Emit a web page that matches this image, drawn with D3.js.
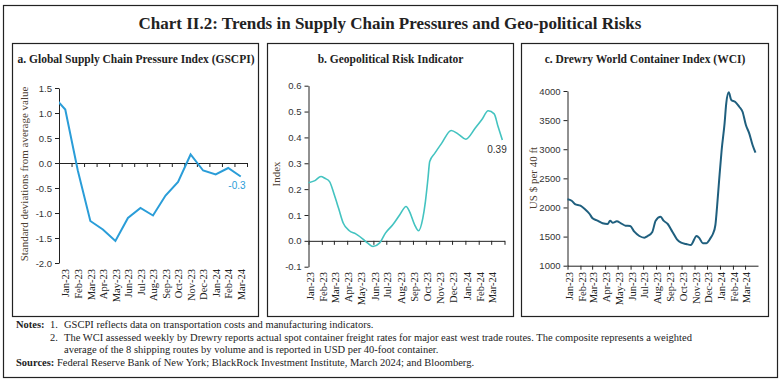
<!DOCTYPE html>
<html>
<head>
<meta charset="utf-8">
<script src="https://cdn.jsdelivr.net/npm/d3@7"></script>
<style>
  body { margin: 0; background: #fff; }
  text { font-family: 'Liberation Serif', serif; }
  .tick text { font-family: 'Liberation Sans', sans-serif; font-size: 9.5px; fill: #333; }
  .months .tick text { font-family: 'Liberation Serif', serif; font-size: 10.5px; fill: #222; }
</style>
</head>
<body>
<svg id="canvas" width="782" height="384"></svg>
<script>
// panel a: GSCPI, monthly (Dec-22 only feeds the clipped start of the line)
let gscpiMonths = ['Dec-22', 'Jan-23', 'Feb-23', 'Mar-23', 'Apr-23', 'May-23', 'Jun-23', 'Jul-23', 'Aug-23',
  'Sep-23', 'Oct-23', 'Nov-23', 'Dec-23', 'Jan-24', 'Feb-24', 'Mar-24']
let gscpiValues = [1.35, 1.07, -0.15, -1.16, -1.33, -1.56, -1.1, -0.9, -1.05, -0.65, -0.38, 0.17, -0.15, -0.23, -0.1, -0.27]
let gscpiTicks = [-2.0, -1.5, -1.0, -0.5, 0.0, 0.5, 1.0, 1.5]

// panel b: geopolitical risk indicator
let gprDates = ['2023-01-01', '2023-01-16', '2023-01-30', '2023-02-08', '2023-02-19', '2023-03-02', '2023-03-12',
  '2023-03-23', '2023-04-06', '2023-04-21', '2023-05-07', '2023-05-19', '2023-05-31', '2023-06-15', '2023-06-29',
  '2023-07-16', '2023-08-01', '2023-08-16', '2023-08-24', '2023-09-05', '2023-09-14', '2023-09-24', '2023-09-30',
  '2023-10-06', '2023-10-10', '2023-10-22', '2023-11-07', '2023-11-29', '2023-12-16', '2024-01-02', '2024-01-24',
  '2024-02-08', '2024-02-23', '2024-03-08', '2024-03-17', '2024-03-27']
let gprValues = [0.225, 0.233, 0.249, 0.242, 0.229, 0.178, 0.126, 0.068, 0.039, 0.027, 0.008, -0.009, -0.022,
  -0.009, 0.030, 0.062, 0.100, 0.133, 0.113, 0.062, 0.039, 0.088, 0.152, 0.242, 0.307, 0.339, 0.378, 0.427,
  0.412, 0.393, 0.436, 0.468, 0.503, 0.491, 0.442, 0.390]
let gprTicks = [-0.1, 0.0, 0.1, 0.2, 0.3, 0.4, 0.5, 0.6]

// panel c: Drewry WCI, US$ per 40 ft
let wciDates = ['2023-01-01', '2023-01-11', '2023-01-19', '2023-02-01', '2023-02-12', '2023-02-23', '2023-03-02',
  '2023-03-14', '2023-03-26', '2023-04-07', '2023-04-13', '2023-04-19', '2023-04-29', '2023-05-09', '2023-05-20',
  '2023-05-31', '2023-06-10', '2023-06-22', '2023-07-04', '2023-07-12', '2023-07-23', '2023-07-31', '2023-08-12',
  '2023-08-19', '2023-08-29', '2023-09-09', '2023-09-20', '2023-09-30', '2023-10-12', '2023-10-23', '2023-11-06',
  '2023-11-13', '2023-11-21', '2023-11-29', '2023-12-09', '2023-12-15', '2023-12-21', '2023-12-25', '2023-12-30',
  '2024-01-05', '2024-01-12', '2024-01-16', '2024-01-22', '2024-01-28', '2024-02-06', '2024-02-16', '2024-02-24',
  '2024-03-03', '2024-03-11', '2024-03-19', '2024-03-26']
let wciValues = [2140, 2116, 2059, 2030, 1968, 1888, 1814, 1773, 1728, 1716, 1773, 1738, 1762, 1728, 1687, 1682,
  1584, 1510, 1481, 1510, 1579, 1773, 1841, 1773, 1716, 1584, 1453, 1395, 1373, 1355, 1510, 1470, 1385, 1385,
  1470, 1544, 1699, 2013, 2471, 2987, 3445, 3788, 3977, 3845, 3816, 3730, 3644, 3416, 3273, 3072, 2940]
let wciTicks = [1000, 1500, 2000, 2500, 3000, 3500, 4000]

const canvas = d3.select('#canvas')
const parseDate = d3.timeParse('%Y-%m-%d')
const monthFmt = d3.timeFormat('%b-%y')
const fmt1 = d => d.toFixed(1)

// frames
canvas.append('rect').attr('x', 3.5).attr('y', 5.5).attr('width', 774).attr('height', 372)
  .attr('fill', 'none').attr('stroke', '#222').attr('stroke-width', 1.2)
let boxes = [[12.5, 258.5], [267.5, 513.5], [521.5, 768.5]]
boxes.forEach(b => {
  canvas.append('rect').attr('x', b[0]).attr('y', 43.5).attr('width', b[1] - b[0]).attr('height', 273)
    .attr('fill', 'none').attr('stroke', '#222').attr('stroke-width', 1.2)
})

canvas.append('text').attr('x', 390).attr('y', 29).attr('text-anchor', 'middle')
  .style('font-size', '17px').style('font-weight', 'bold').attr('fill', '#222')
  .text('Chart II.2: Trends in Supply Chain Pressures and Geo-political Risks')

let panelTitle = (x, txt) => {
  canvas.append('text').attr('x', x).attr('y', 63).attr('text-anchor', 'middle')
    .style('font-size', '11.5px').style('font-weight', 'bold').attr('fill', '#222').text(txt)
}
panelTitle(136, 'a. Global Supply Chain Pressure Index (GSCPI)')
panelTitle(390.5, 'b. Geopolitical Risk Indicator')
panelTitle(645, 'c. Drewry World Container Index (WCI)')

let yTitle = (x, y, txt) => {
  canvas.append('text').attr('transform', `translate(${x},${y}) rotate(-90)`).attr('text-anchor', 'middle')
    .attr('dy', '0.35em').style('font-size', '11px').attr('fill', '#4d4033').text(txt)
}

let styleAxis = g => {
  g.selectAll('.domain').attr('stroke', '#222')
  g.selectAll('.tick line').attr('stroke', '#222')
}

let monthLabels = (g) => {
  g.select('.domain').remove()
  g.attr('class', 'months')
  g.selectAll('.tick text')
    .attr('transform', 'rotate(-90)')
    .attr('text-anchor', 'end')
    .attr('x', 0).attr('y', 0).attr('dy', '0.35em')
}

// ---------- panel a ----------
let drawGscpi = () => {
  const x = d3.scaleLinear().domain([-0.5, 14.5]).range([59, 247])
  const y = d3.scaleLinear().domain([-2, 1.5]).range([263, 88])

  canvas.append('g').attr('transform', 'translate(59,0)')
    .call(d3.axisLeft(y).tickValues(gscpiTicks).tickFormat(fmt1).tickSize(4).tickSizeOuter(0))
    .call(styleAxis)

  canvas.append('g').attr('transform', `translate(0,${y(0)})`)
    .call(d3.axisBottom(x).tickValues(d3.range(-0.5, 15, 1)).tickFormat('').tickSize(4).tickSizeOuter(0))
    .call(styleAxis)

  canvas.append('g').attr('transform', 'translate(0,269)')
    .call(d3.axisBottom(x).tickValues(d3.range(0, 15)).tickFormat(i => gscpiMonths[i + 1]).tickSize(0))
    .call(monthLabels)

  canvas.append('clipPath').attr('id', 'clipA')
    .append('rect').attr('x', 59).attr('y', 60).attr('width', 190).attr('height', 240)

  const line = d3.line().x((d, i) => x(i - 1)).y(d => y(d))
  canvas.append('path').datum(gscpiValues)
    .attr('clip-path', 'url(#clipA)')
    .attr('d', line).attr('fill', 'none').attr('stroke', '#2a9dd8').attr('stroke-width', 2)

  canvas.append('text').attr('x', x(13.7)).attr('y', 189).attr('text-anchor', 'middle')
    .style('font-family', 'Liberation Sans, sans-serif').style('font-size', '10px').attr('fill', '#2a9dd8')
    .text(fmt1(gscpiValues[gscpiValues.length - 1]))

  yTitle(24, 174, 'Standard deviations from average value')
}

// ---------- panel b ----------
let drawGpr = () => {
  const x = d3.scaleTime().domain([parseDate('2023-01-01'), parseDate('2024-04-01')]).range([308.5, 504.5])
  const y = d3.scaleLinear().domain([-0.1, 0.6]).range([266.7, 85.7])
  const months = d3.timeMonth.range(parseDate('2023-01-01'), parseDate('2024-04-01'))

  canvas.append('g').attr('transform', 'translate(308.5,0)')
    .call(d3.axisLeft(y).tickValues(gprTicks).tickFormat(fmt1).tickSize(4).tickSizeOuter(0))
    .call(styleAxis)

  canvas.append('g').attr('transform', `translate(0,${y(0)})`)
    .call(d3.axisBottom(x).tickValues(months.concat([parseDate('2024-04-01')])).tickFormat('').tickSize(4).tickSizeOuter(0))
    .call(styleAxis)

  canvas.append('g').attr('transform', 'translate(1,272)')
    .call(d3.axisBottom(x).tickValues(months).tickFormat(monthFmt).tickSize(0))
    .call(monthLabels)

  const pts = gprDates.map((d, i) => [parseDate(d), gprValues[i]])
  canvas.append('path').datum(pts)
    .attr('d', d3.line().x(d => x(d[0])).y(d => y(d[1])).curve(d3.curveMonotoneX))
    .attr('fill', 'none').attr('stroke', '#43c3c0').attr('stroke-width', 1.6)

  canvas.append('text').attr('x', 497).attr('y', 152.5).attr('text-anchor', 'middle')
    .style('font-family', 'Liberation Sans, sans-serif').style('font-size', '10px').attr('fill', '#333')
    .text(gprValues[gprValues.length - 1].toFixed(2))

  yTitle(276, 174, 'Index')
}

// ---------- panel c ----------
let drawWci = () => {
  const x = d3.scaleTime().domain([parseDate('2023-01-01'), parseDate('2024-04-01')]).range([567.5, 758])
  const y = d3.scaleLinear().domain([1000, 4000]).range([265.7, 91])
  const months = d3.timeMonth.range(parseDate('2023-01-01'), parseDate('2024-04-01'))

  canvas.append('g').attr('transform', 'translate(567.5,0)')
    .call(d3.axisLeft(y).tickValues(wciTicks).tickFormat(d3.format('d')).tickSize(4).tickSizeOuter(0))
    .call(styleAxis)

  canvas.append('g').attr('transform', `translate(0,${y(1000)})`)
    .call(d3.axisBottom(x).tickValues(months).tickFormat('').tickSize(4).tickSizeOuter(0))
    .call(styleAxis)

  canvas.append('g').attr('transform', 'translate(1,272)')
    .call(d3.axisBottom(x).tickValues(months).tickFormat(monthFmt).tickSize(0))
    .call(monthLabels)

  const pts = wciDates.map((d, i) => [parseDate(d), wciValues[i]])
  canvas.append('path').datum(pts)
    .attr('d', d3.line().x(d => x(d[0])).y(d => y(d[1])).curve(d3.curveMonotoneX))
    .attr('fill', 'none').attr('stroke', '#1f5f7e').attr('stroke-width', 2)

  yTitle(533, 178, 'US $ per 40 ft')
}

drawGscpi()
drawGpr()
drawWci()

// notes
let notes = canvas.append('g').style('font-size', '10.5px').attr('fill', '#222')
notes.append('text').attr('x', 16).attr('y', 328).style('font-weight', 'bold').text('Notes:')
notes.append('text').attr('x', 50).attr('y', 328).text('1.')
notes.append('text').attr('x', 64).attr('y', 328)
  .text('GSCPI reflects data on transportation costs and manufacturing indicators.')
notes.append('text').attr('x', 50).attr('y', 341).text('2.')
notes.append('text').attr('x', 64).attr('y', 341)
  .text('The WCI assessed weekly by Drewry reports actual spot container freight rates for major east west trade routes. The composite represents a weighted')
notes.append('text').attr('x', 64).attr('y', 353)
  .text('average of the 8 shipping routes by volume and is reported in USD per 40-foot container.')
notes.append('text').attr('x', 16).attr('y', 366)
  .call(t => t.append('tspan').style('font-weight', 'bold').text('Sources: '))
  .call(t => t.append('tspan').text('Federal Reserve Bank of New York; BlackRock Investment Institute, March 2024; and Bloomberg.'))
</script>
</body>
</html>
